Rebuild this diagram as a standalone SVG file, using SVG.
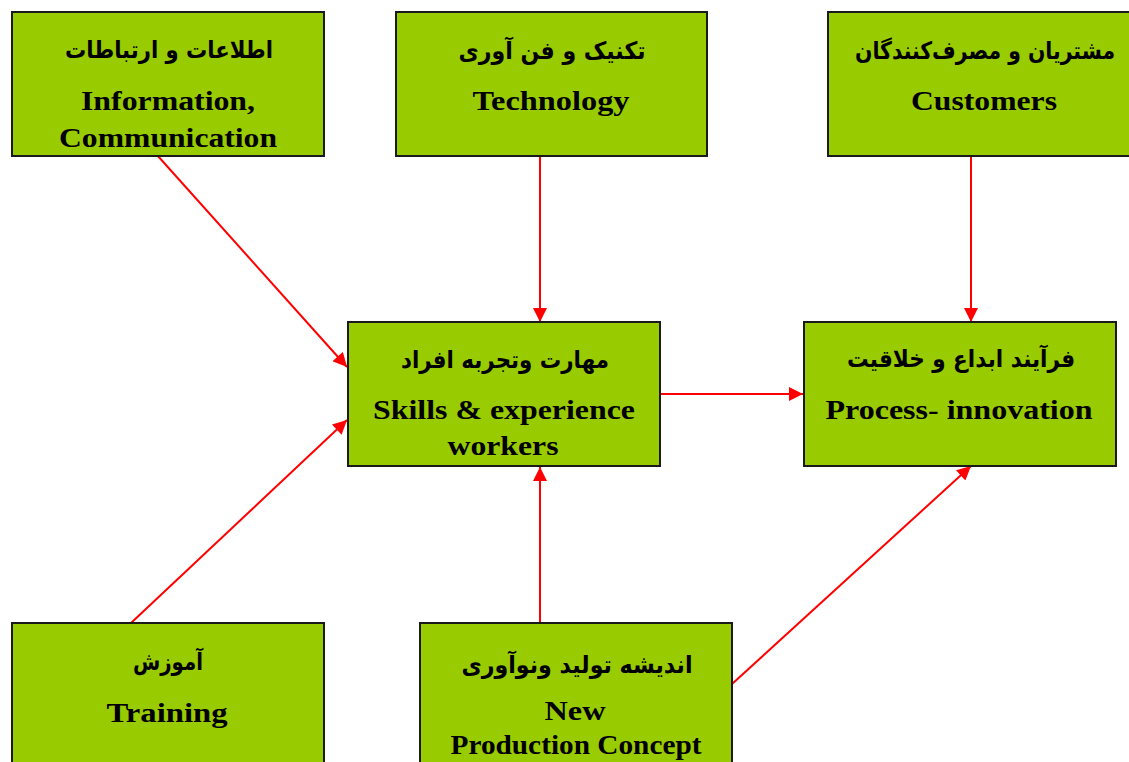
<svg xmlns="http://www.w3.org/2000/svg" width="1129" height="762" viewBox="0 0 1129 762">
<style>
.box{fill:#99cc00;stroke:#1a1a1a;stroke-width:2}
.en{font-family:"Liberation Serif","Times New Roman",serif;font-weight:bold;font-size:27px;fill:#000;text-anchor:middle}
.fa{font-family:"DejaVu Sans","Noto Sans",sans-serif;font-weight:bold;font-size:24px;fill:#000;text-anchor:middle}
.c{stroke:#ff0000;stroke-width:2;fill:none}
</style>
<defs>
<marker id="ah" viewBox="0 0 10 10" refX="10" refY="5" markerWidth="8" markerHeight="7" orient="auto" markerUnits="strokeWidth">
<path d="M0,0 L10,5 L0,10 z" fill="#ff0000"/>
</marker>
</defs>
<g id="connectors">
<line class="c" x1="157" y1="155" x2="347" y2="367" marker-end="url(#ah)"/>
<line class="c" x1="540" y1="156" x2="540" y2="322" marker-end="url(#ah)"/>
<line class="c" x1="971" y1="156" x2="971" y2="322" marker-end="url(#ah)"/>
<line class="c" x1="660" y1="394" x2="803" y2="394" marker-end="url(#ah)"/>
<line class="c" x1="131" y1="623" x2="347" y2="420" marker-end="url(#ah)"/>
<line class="c" x1="540" y1="623" x2="540" y2="467" marker-end="url(#ah)"/>
<line class="c" x1="732" y1="684" x2="971" y2="466" marker-end="url(#ah)"/>
</g>
<g id="info">
<rect class="box" x="12" y="12" width="312" height="144"/>
<text class="fa" x="169" y="58" textLength="208" lengthAdjust="spacingAndGlyphs">اطلاعات و ارتباطات</text>
<text class="en" x="168" y="110" textLength="174" lengthAdjust="spacingAndGlyphs">Information,</text>
<text class="en" x="168" y="147" textLength="218" lengthAdjust="spacingAndGlyphs">Communication</text>
</g>
<g id="technology">
<rect class="box" x="396" y="12" width="311" height="144"/>
<text class="fa" x="552" y="59" textLength="187" lengthAdjust="spacingAndGlyphs">تکنیک و فن آوری</text>
<text class="en" x="551" y="110" textLength="157" lengthAdjust="spacingAndGlyphs">Technology</text>
</g>
<g id="customers">
<rect class="box" x="828" y="12" width="312" height="144"/>
<text class="fa" x="985" y="59" textLength="260" lengthAdjust="spacingAndGlyphs">مشتریان و مصرف‌کنندگان</text>
<text class="en" x="984" y="110" textLength="146" lengthAdjust="spacingAndGlyphs">Customers</text>
</g>
<g id="skills">
<rect class="box" x="348" y="322" width="312" height="144"/>
<text class="fa" x="505" y="368" textLength="208" lengthAdjust="spacingAndGlyphs">مهارت  وتجربه افراد</text>
<text class="en" x="504" y="419" textLength="262" lengthAdjust="spacingAndGlyphs">Skills &amp; experience</text>
<text class="en" x="503" y="455" textLength="111" lengthAdjust="spacingAndGlyphs">workers</text>
</g>
<g id="process">
<rect class="box" x="804" y="322" width="312" height="144"/>
<text class="fa" x="961" y="367" textLength="228" lengthAdjust="spacingAndGlyphs">فرآیند ابداع و خلاقیت</text>
<text class="en" x="959" y="419" textLength="267" lengthAdjust="spacingAndGlyphs">Process- innovation</text>
</g>
<g id="training">
<rect class="box" x="12" y="623" width="312" height="150"/>
<text class="fa" x="168" y="670" textLength="70" lengthAdjust="spacingAndGlyphs">آموزش</text>
<text class="en" x="167" y="722" textLength="121" lengthAdjust="spacingAndGlyphs">Training</text>
</g>
<g id="npc">
<rect class="box" x="420" y="623" width="312" height="150"/>
<text class="fa" x="577" y="673" textLength="231" lengthAdjust="spacingAndGlyphs">اندیشه تولید  ونوآوری</text>
<text class="en" x="575" y="720" textLength="61" lengthAdjust="spacingAndGlyphs">New</text>
<text class="en" x="576" y="754" textLength="251" lengthAdjust="spacingAndGlyphs">Production Concept</text>
</g>
</svg>
